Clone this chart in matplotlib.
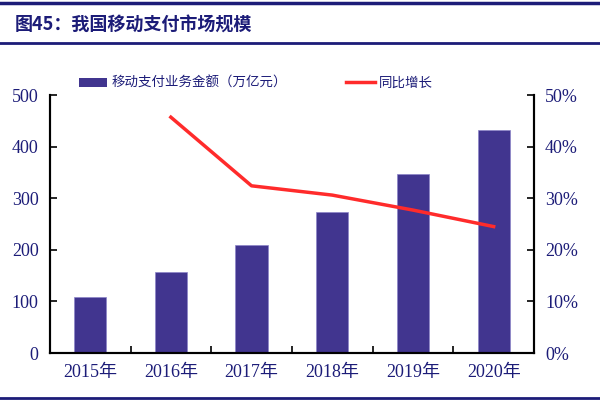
import matplotlib.pyplot as plt
from matplotlib.lines import Line2D
from matplotlib.patches import Patch
from matplotlib.ticker import FuncFormatter
import numpy as np

# データ
years = ['2015年', '2016年', '2017年', '2018年', '2019年', '2020年']
amount = [108, 157.6, 208.7, 272.6, 346, 431.6]      # 移动支付业务金额（万亿元）
growth_years = ['2016年', '2017年', '2018年', '2019年', '2020年']
growth = [45.7, 32.4, 30.6, 27.7, 24.5]               # 同比增长 (%)

TITLE = '图45：我国移动支付市场规模'
BAR_LABEL = '移动支付业务金额（万亿元）'
LINE_LABEL = '同比增长'

NAVY = '#1c1c78'
BAR_COLOR = '#41358f'
LINE_COLOR = '#ff2b2b'

CJK = ['Noto Sans CJK SC', 'DejaVu Sans']
SERIF = ['Liberation Serif', 'Noto Sans CJK SC']

plt.rcParams['font.family'] = CJK

fig = plt.figure(figsize=(6, 4), dpi=100)
ax = fig.add_axes([0.083, 0.1175, 0.807, 0.645])
ax2 = ax.twinx()

x = np.arange(len(years))
ax.bar(x, amount, width=0.4, color=BAR_COLOR, edgecolor='#8c84c8', linewidth=0.5, zorder=2)
gx = [years.index(y) for y in growth_years]
ax2.plot(gx, growth, color=LINE_COLOR, linewidth=2.5, zorder=3)

ax.set_xlim(-0.5, len(years) - 0.5)
ax.set_ylim(0, 500)
ax.set_yticks(range(0, 501, 100))
ax2.set_ylim(0, 50)
ax2.set_yticks(range(0, 51, 10))
ax2.yaxis.set_major_formatter(FuncFormatter(lambda v, p: f'{v:.0f}%'))

# x軸: 目盛りはカテゴリの境界、ラベルは中央
ax.set_xticks(np.arange(0.5, len(years) - 1, 1))
ax.set_xticklabels([])
ax.set_xticks(x, minor=True)
ax.set_xticklabels(years, minor=True)
ax.tick_params(axis='x', which='minor', length=0, pad=8,
               labelfontfamily=SERIF, labelsize=13, labelcolor=NAVY)
ax.tick_params(axis='x', which='major', direction='in', length=5, width=1.2)

for a in (ax, ax2):
    a.spines['top'].set_visible(False)
    for s in a.spines.values():
        s.set_linewidth(1.5)
    a.tick_params(axis='y', direction='in', length=5, width=1.2, pad=8,
                  labelfontfamily=SERIF, labelsize=13, labelcolor=NAVY)

# 凡例
handles = [Patch(facecolor=BAR_COLOR, label=BAR_LABEL),
           Line2D([0], [0], color=LINE_COLOR, linewidth=2.5, label=LINE_LABEL)]
leg = fig.legend(handles=handles, loc='center', bbox_to_anchor=(0.4265, 0.7925), ncol=2,
                 frameon=False, fontsize=9.7, columnspacing=4.4, handlelength=2.1,
                 handleheight=0.6, handletextpad=0.35)
for t in leg.get_texts():
    t.set_color(NAVY)

# タイトルと罫線
fig.text(0.025, 0.937, TITLE, fontsize=13, fontweight='bold', color=NAVY, va='center')
fig.add_artist(Line2D([0, 1], [0.992, 0.992], color=NAVY, linewidth=2.5))
fig.add_artist(Line2D([0, 1], [0.892, 0.892], color=NAVY, linewidth=2))
fig.add_artist(Line2D([0, 1], [0.005, 0.005], color=NAVY, linewidth=2))

fig.savefig('out.png', dpi=100)
